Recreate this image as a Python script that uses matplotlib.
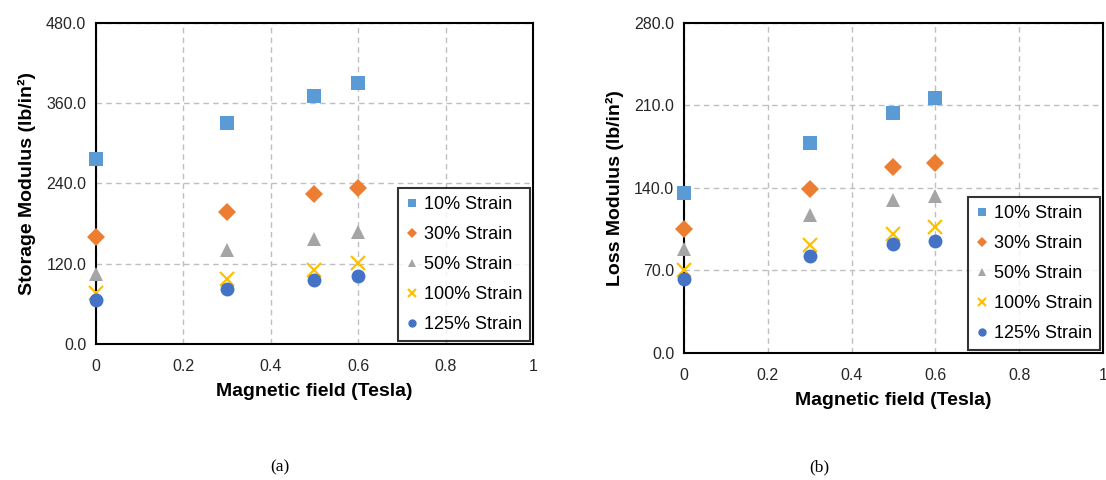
import matplotlib
matplotlib.use("Agg")
import matplotlib.pyplot as plt

plt.rcParams["font.family"] = ["Liberation Sans", "DejaVu Sans"]

field = [0, 0.3, 0.5, 0.6]
labels = ["10% Strain", "30% Strain", "50% Strain", "100% Strain", "125% Strain"]

# storage modulus (lb/in^2) for each strain level
storage = [
    [276.5, 330.0, 370.0, 389.5],
    [159.5, 197.0, 224.0, 232.5],
    [104.0, 140.5, 157.0, 167.0],
    [76.0, 97.0, 110.5, 121.5],
    [66.0, 82.0, 96.0, 102.0],
]

# loss modulus (lb/in^2) for each strain level
loss = [
    [135.5, 178.0, 204.0, 216.5],
    [105.0, 139.0, 157.5, 161.5],
    [88.0, 117.0, 130.0, 133.0],
    [70.0, 91.5, 101.0, 106.5],
    [62.5, 82.5, 92.5, 95.0],
]

colors = ["#5B9BD5", "#ED7D31", "#A5A5A5", "#FFC000", "#4472C4"]
markers = ["s", "D", "^", "x", "o"]
sizes = [10, 9, 10, 10, 10]

fig = plt.figure(figsize=(11.06, 4.8), dpi=100)
ax1 = fig.add_axes([0.0868, 0.2833, 0.3951, 0.6694])
ax2 = fig.add_axes([0.6184, 0.2646, 0.3788, 0.6875])


def draw(ax, data, ymax, ystep, ylabel):
    for vals, c, m, s, lab in zip(data, colors, markers, sizes, labels):
        ax.plot(field, vals, linestyle="none", marker=m, color=c,
                markersize=s, markeredgewidth=1.6 if m == "x" else 0,
                label=lab, zorder=3, clip_on=False)
    ax.set_xlim(0, 1)
    ax.set_ylim(0, ymax)
    ax.set_xticks([0, 0.2, 0.4, 0.6, 0.8, 1])
    ax.set_xticklabels(["0", "0.2", "0.4", "0.6", "0.8", "1"])
    yt = [i * ystep for i in range(5)]
    ax.set_yticks(yt)
    ax.set_yticklabels([f"{v:.1f}" for v in yt])
    ax.grid(True, color="#BFBFBF", linestyle=(0, (4, 3)), linewidth=1)
    ax.set_axisbelow(True)
    ax.tick_params(length=0, labelsize=11.5, pad=11, colors="#262626")
    ax.tick_params(axis="y", pad=7)
    for sp in ax.spines.values():
        sp.set_color("black")
        sp.set_linewidth(1.5)
    ax.set_xlabel("Magnetic field (Tesla)", fontsize=14, fontweight="bold",
                  labelpad=6)
    ax.set_ylabel(ylabel, fontsize=14, fontweight="bold", labelpad=7)
    leg = ax.legend(loc="lower right", fontsize=13, markerscale=0.6,
                    frameon=True, fancybox=False, borderaxespad=0.15,
                    handlelength=0.6, handletextpad=0.35, labelspacing=0.72,
                    borderpad=0.45)
    leg.get_frame().set_edgecolor("black")
    leg.get_frame().set_linewidth(1.5)
    leg.set_zorder(5)


draw(ax1, storage, 480, 120, "Storage Modulus (lb/in²)")
draw(ax2, loss, 280, 70, "Loss Modulus (lb/in²)")

fig.text(0.253, 0.018, "(a)", family="Liberation Serif", fontsize=12.5,
         ha="center")
fig.text(0.741, 0.018, "(b)", family="Liberation Serif", fontsize=12.5,
         ha="center")

fig.savefig("out.png", dpi=100)
